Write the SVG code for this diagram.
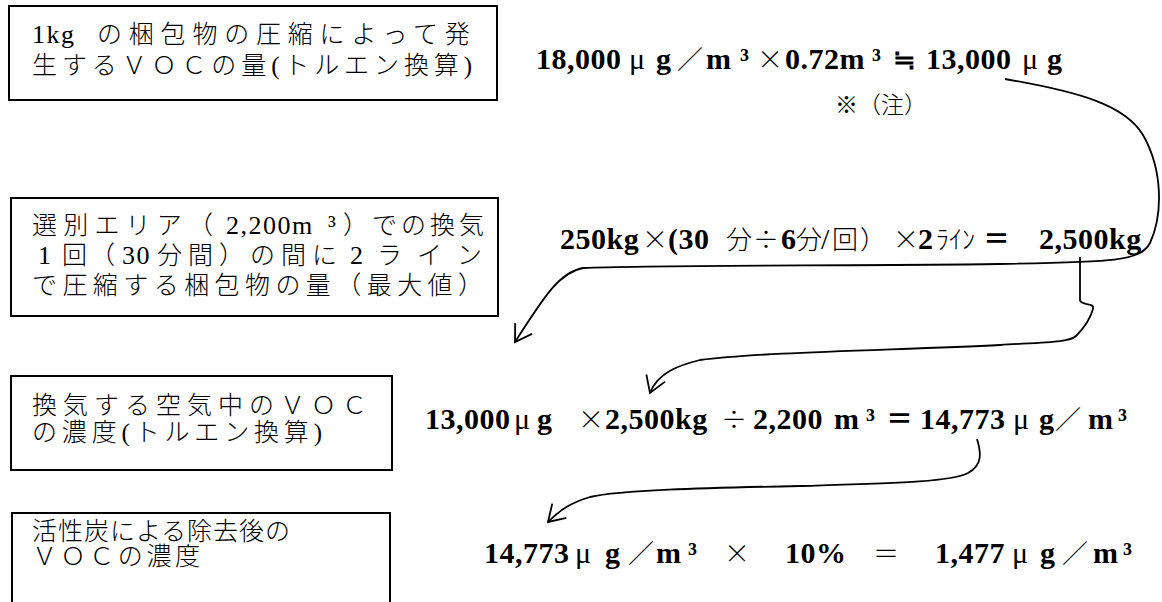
<svg xmlns="http://www.w3.org/2000/svg" width="1162" height="602" viewBox="0 0 1162 602">
<style>
.box{fill:#fff;stroke:#000;stroke-width:2}
.bt{font-family:"Liberation Serif","Noto Sans CJK JP",serif;font-size:25px;font-weight:300;fill:#000}
.lt{font-family:"Liberation Serif",serif;font-size:26px;font-weight:normal;letter-spacing:1.5px}
.f{font-family:"Liberation Serif","Noto Sans CJK JP",serif;font-size:30px;font-weight:bold;letter-spacing:0.5px;fill:#000}
.mu{font-weight:normal;letter-spacing:0}
.op{font-family:"Noto Sans CJK JP",sans-serif;font-weight:300;font-size:26px;letter-spacing:0}
.eq{font-family:"Noto Sans CJK JP",sans-serif;font-weight:bold;font-size:27px;letter-spacing:0}
.note{font-family:"Noto Sans CJK JP",sans-serif;font-size:23px;font-weight:300;fill:#000}
.conn{fill:none;stroke:#000;stroke-width:1.8;marker-end:url(#arr)}
</style>
<defs>
<marker id="arr" markerUnits="userSpaceOnUse" orient="auto" overflow="visible" refX="0" refY="0" markerWidth="1" markerHeight="1">
<path d="M-16,-10 L0,0 L-16,10" fill="none" stroke="#000" stroke-width="1.8"/>
</marker>
</defs>
<rect width="1162" height="602" fill="#fff"/>

<g id="box1">
<rect class="box" x="9" y="6" width="488" height="94"/>
<text class="bt" y="43"><tspan x="32" class="lt">1kg</tspan><tspan x="97" letter-spacing="6.8">の梱包物の圧縮によって発</tspan></text>
<text class="bt" x="32" y="74" textLength="440" lengthAdjust="spacing">生するＶＯＣの量(トルエン換算)</text>
</g>

<g id="box2">
<rect class="box" x="11" y="198" width="487" height="118"/>
<text class="bt" y="234"><tspan x="32" letter-spacing="6.2">選別エリア（</tspan><tspan x="226" class="lt">2,200m</tspan><tspan x="328" class="lt">³</tspan><tspan x="343" letter-spacing="4">）での換気</tspan></text>
<text class="bt" y="264"><tspan x="38" class="lt">1</tspan><tspan x="62" letter-spacing="3">回（</tspan><tspan x="122" class="lt">30</tspan><tspan x="157" letter-spacing="6">分間）の間に</tspan><tspan x="350" class="lt">2</tspan><tspan x="377" letter-spacing="15">ライン</tspan></text>
<text class="bt" x="32" y="294" textLength="451" lengthAdjust="spacing">で圧縮する梱包物の量（最大値）</text>
</g>

<g id="box3">
<rect class="box" x="11" y="376" width="381" height="94"/>
<text class="bt" x="32" y="414" textLength="335" lengthAdjust="spacing">換気する空気中のＶＯＣ</text>
<text class="bt" x="32" y="441" textLength="290" lengthAdjust="spacing">の濃度(トルエン換算)</text>
</g>

<g id="box4">
<rect class="box" x="12" y="513" width="378" height="100"/>
<text class="bt" x="32" y="540" textLength="258" lengthAdjust="spacing">活性炭による除去後の</text>
<text class="bt" x="32" y="565" textLength="168" lengthAdjust="spacing">ＶＯＣの濃度</text>
</g>

<g id="formula1">
<text class="f" y="69"><tspan x="536">18,000</tspan><tspan x="629" class="mu">μ</tspan><tspan x="656">g</tspan><tspan x="677" class="op">／</tspan><tspan x="706">m</tspan><tspan x="740">³</tspan><tspan x="757" class="op">×</tspan><tspan x="785">0.72m</tspan><tspan x="872">³</tspan><tspan x="893" class="eq">≒</tspan><tspan x="926">13,000</tspan><tspan x="1022" class="mu">μ</tspan><tspan x="1047">g</tspan></text>
<text class="note" x="835" y="113">※（注）</text>
</g>

<g id="formula2">
<text class="f" y="249"><tspan x="560">250kg</tspan><tspan x="642" class="op">×</tspan><tspan x="668">(30</tspan><tspan x="726" class="op">分</tspan><tspan x="753" class="op">÷</tspan><tspan x="781">6</tspan><tspan x="796" class="op">分</tspan><tspan x="821" class="mu">/</tspan><tspan x="832" class="op">回</tspan><tspan x="860" class="op">）</tspan><tspan x="893" class="op">×</tspan><tspan x="918">2</tspan><tspan x="936" class="op">ﾗｲﾝ</tspan><tspan x="983" class="eq">＝ </tspan><tspan x="1039">2,500kg</tspan></text>
</g>

<g id="formula3">
<text class="f" y="429"><tspan x="425">13,000</tspan><tspan x="514" class="mu">μ</tspan><tspan x="537">g </tspan><tspan x="578" class="op">×</tspan><tspan x="605">2,500kg </tspan><tspan x="721" class="op">÷</tspan><tspan x="753">2,200</tspan><tspan x="834">m</tspan><tspan x="866">³</tspan><tspan x="886" class="eq">＝</tspan><tspan x="920">14,773</tspan><tspan x="1013" class="mu">μ</tspan><tspan x="1039">g</tspan><tspan x="1055" class="op">／</tspan><tspan x="1088">m</tspan><tspan x="1118">³</tspan></text>
</g>

<g id="formula4">
<text class="f" y="563"><tspan x="484">14,773</tspan><tspan x="575" class="mu">μ</tspan><tspan x="605">g</tspan><tspan x="628" class="op">／</tspan><tspan x="656">m</tspan><tspan x="688">³ </tspan><tspan x="724" class="op">× </tspan><tspan x="785">10% </tspan><tspan x="873" class="op">＝ </tspan><tspan x="935">1,477</tspan><tspan x="1012" class="mu">μ</tspan><tspan x="1040">g</tspan><tspan x="1062" class="op">／</tspan><tspan x="1093">m</tspan><tspan x="1123">³</tspan></text>
</g>

<g id="connectors">
<path class="conn" d="M1005,79 C1080,92 1125,105 1143,135 C1163,170 1163,215 1150,243 C1140,262 1110,262 1000,264 C850,266 650,265 583,268 C560,272 545,295 515,342"/>
<path class="conn" d="M1080,257 L1080,300 C1080,306 1095,302 1093,309 C1090,320 1082,330 1076,336 C1070,342 1050,342 1000,345 C900,350 760,352 700,360 C680,365 658,372 650,393"/>
<path class="conn" d="M977,439 C981,452 983,465 968,473 C950,482 900,483 800,486 C700,488 620,490 590,497 C570,503 560,510 548,522"/>
</g>
</svg>
